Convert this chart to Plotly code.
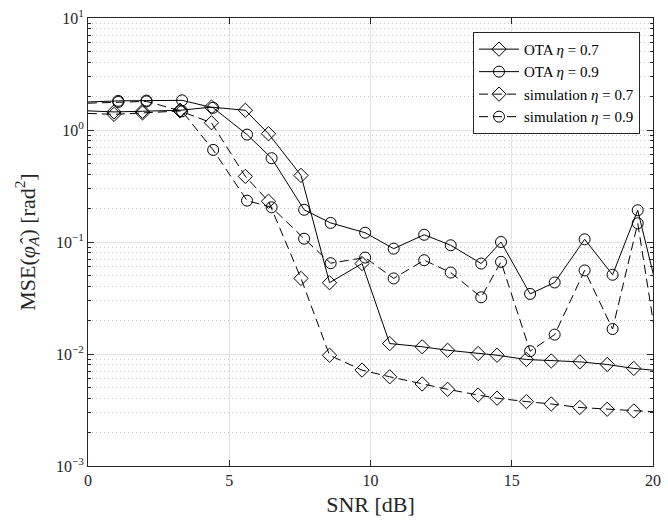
import plotly.graph_objects as go

# SNR [dB] of measured points (eta=0.7 and eta=0.9 sets); end points lie outside the axis
snr_07 = [-0.5, 0.92, 1.93, 3.26, 4.37, 5.57, 6.39, 7.54, 8.55, 9.70, 10.68, 11.83,
          12.73, 13.81, 14.48, 15.52, 16.40, 17.41, 18.38, 19.32, 20.5]
snr_09 = [-0.5, 1.07, 2.07, 3.33, 4.43, 5.63, 6.50, 7.65, 8.59, 9.81, 10.82, 11.90,
          12.84, 13.92, 14.62, 15.65, 16.52, 17.58, 18.57, 19.46, 20.5]

# MSE values [rad^2]
ota_07 = [1.50, 1.45, 1.47, 1.50, 1.60, 1.50, 0.926, 0.393, 0.0433, 0.0642, 0.0124,
          0.0116, 0.0108, 0.0101, 0.00975, 0.00893, 0.00867, 0.00851, 0.00806,
          0.00743, 0.0070]
ota_09 = [1.76, 1.82, 1.83, 1.84, 1.58, 0.91, 0.56, 0.194, 0.148, 0.121, 0.0872,
          0.116, 0.0935, 0.0642, 0.100, 0.0344, 0.0435, 0.1057, 0.051, 0.192, 0.0161]
sim_07 = [1.42, 1.38, 1.42, 1.48, 1.16, 0.385, 0.231, 0.0473, 0.00975, 0.00718,
          0.00626, 0.0054, 0.00484, 0.0043, 0.00403, 0.00376, 0.00358, 0.00333,
          0.00321, 0.0031, 0.0030]
sim_09 = [1.72, 1.78, 1.80, 1.47, 0.664, 0.234, 0.204, 0.107, 0.0647, 0.0726, 0.0473,
          0.0688, 0.0534, 0.0321, 0.0665, 0.0106, 0.0149, 0.0557, 0.0167, 0.147, 0.0032]

names = ["OTA <i>η</i> = 0.7", "OTA <i>η</i> = 0.9",
         "simulation <i>η</i> = 0.7", "simulation <i>η</i> = 0.9"]

x_ticks = [0, 5, 10, 15, 20]
y_ticks = [1e-3, 1e-2, 1e-1, 1e0, 1e1]
y_ticktext = ["10<sup>−3</sup>", "10<sup>−2</sup>", "10<sup>−1</sup>",
              "10<sup>0</sup>", "10<sup>1</sup>"]
y_minor = [m * 10.0 ** e for e in range(-3, 1) for m in range(2, 10)]

FONT = "Liberation Serif"
series = [
    (snr_07, ota_07, names[0], "solid", "diamond-open", 11),
    (snr_09, ota_09, names[1], "solid", "circle-open", 11),
    (snr_07, sim_07, names[2], "9px,5px", "diamond-open", 11),
    (snr_09, sim_09, names[3], "9px,5px", "circle-open", 11),
]

fig = go.Figure()
for xs, ys, nm, dash, sym, sz in series:
    fig.add_trace(go.Scatter(
        x=xs, y=ys, name=nm, mode="lines+markers",
        line=dict(color="black", width=1, dash=dash),
        marker=dict(symbol=sym, size=sz, color="black",
                    line=dict(color="black", width=1)),
        cliponaxis=True,
    ))

axis_common = dict(
    showline=True, linecolor="#262626", linewidth=1, mirror="ticks",
    ticks="inside", ticklen=6, tickcolor="#262626",
    tickfont=dict(family=FONT, size=16, color="#262626"),
    zeroline=False,
)

fig.update_xaxes(
    range=[0, 20.0005], tickvals=x_ticks, showgrid=True, gridcolor="#e3e3e3", gridwidth=1,
    title=dict(text="SNR [dB]", font=dict(family=FONT, size=22, color="#262626"),
               standoff=8),
    **axis_common,
)
fig.update_yaxes(
    type="log", range=[-3, 1], tickvals=y_ticks, ticktext=y_ticktext,
    showgrid=True, gridcolor="#e3e3e3", gridwidth=1,
    minor=dict(tickvals=y_minor, ticks="inside", ticklen=3, tickcolor="#262626",
               showgrid=True, gridcolor="#c4c4c4", griddash="1px,3px", gridwidth=1),
    title=dict(text="MSE(<i>φ̂</i><sub><i>A</i></sub>) [rad<sup>2</sup>]",
               font=dict(family=FONT, size=22, color="#262626"), standoff=14),
    **axis_common,
)

fig.update_layout(
    width=668, height=522,
    margin=dict(l=88, r=7, t=16, b=56),
    paper_bgcolor="white", plot_bgcolor="white",
    showlegend=True,
    legend=dict(x=0.977, y=0.969, xanchor="right", yanchor="top",
                bgcolor="white", bordercolor="#262626", borderwidth=1,
                font=dict(family=FONT, size=15, color="black"),
                tracegroupgap=0, itemwidth=40),
)

fig.write_html("out.html")
